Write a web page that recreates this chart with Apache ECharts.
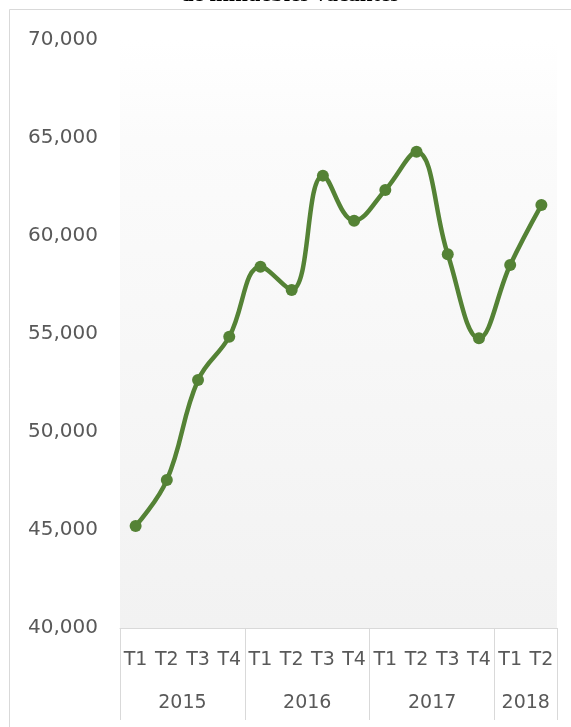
<!DOCTYPE html>
<html>
<head>
<meta charset="utf-8">
<script src="https://cdn.jsdelivr.net/npm/echarts@6/dist/echarts.min.js"></script>
<style>html,body{margin:0;padding:0;background:#fff}#c{width:571px;height:727px}</style>
</head>
<body>
<div id="c"></div>
<script>
const titleText = 'de inmuebles vacantes';
const quarters = ['T1','T2','T3','T4','T1','T2','T3','T4','T1','T2','T3','T4','T1','T2'];
const years = ['2015','2016','2017','2018'];
const yearCenters = [2, 6, 10, 13];
const yearBounds = [0, 4, 8, 12, 14];
const values = [45200, 47550, 52650, 54860, 58430, 57250, 63080, 60780, 62350, 64300, 59070, 54780, 58520, 61580];
const yTicks = [40000, 45000, 50000, 55000, 60000, 65000, 70000];

const chart = echarts.init(document.getElementById('c'));
const font = 'DejaVu Sans';
chart.setOption({
  animation: false,
  backgroundColor: '#fff',
  graphic: [
    { type: 'rect', shape: { x: 9.5, y: 9.5, width: 700, height: 900 }, style: { fill: 'none', stroke: '#d9d9d9', lineWidth: 1 }, z: -10 },
    { type: 'text', x: 290, y: -5, style: { text: titleText, font: 'bold 23px "Liberation Serif"', fill: '#000', textAlign: 'center', textVerticalAlign: 'middle' } }
  ],
  grid: {
    left: 120, right: 14, top: 40, bottom: 99,
    show: true, borderWidth: 0,
    backgroundColor: { type: 'linear', x: 0, y: 0, x2: 0, y2: 1, colorStops: [
      { offset: 0, color: '#ffffff' }, { offset: 0.17, color: '#fbfbfb' }, { offset: 1, color: '#f2f2f2' }
    ] }
  },
  xAxis: [
    {
      type: 'category', data: quarters, boundaryGap: true, position: 'bottom',
      axisLine: { show: true, lineStyle: { color: '#d9d9d9', width: 1 } },
      axisTick: { show: false },
      axisLabel: { interval: 0, margin: 23, color: '#595959', fontFamily: font, fontSize: 19 },
      splitLine: { show: false }
    },
    {
      type: 'value', min: 0, max: 14, position: 'bottom',
      axisLine: { show: false },
      axisTick: { show: true, customValues: yearBounds, length: 92, lineStyle: { color: '#d9d9d9', width: 1 } },
      axisLabel: { show: true, customValues: yearCenters, margin: 66, color: '#595959', fontFamily: font, fontSize: 19,
        formatter: v => years[yearCenters.indexOf(v)] || '' },
      splitLine: { show: false }
    }
  ],
  yAxis: {
    type: 'value', min: 40000, max: 70000, interval: 5000,
    axisLine: { show: false }, axisTick: { show: false }, splitLine: { show: false },
    axisLabel: { margin: 22, color: '#595959', fontFamily: font, fontSize: 20,
      formatter: v => v.toLocaleString('en-US') }
  },
  series: [{
    type: 'line', xAxisIndex: 0, data: values, smooth: 0.4,
    symbol: 'circle', symbolSize: 12,
    lineStyle: { color: '#548235', width: 4.5 },
    itemStyle: { color: '#548235' }
  }]
});
</script>
</body>
</html>
